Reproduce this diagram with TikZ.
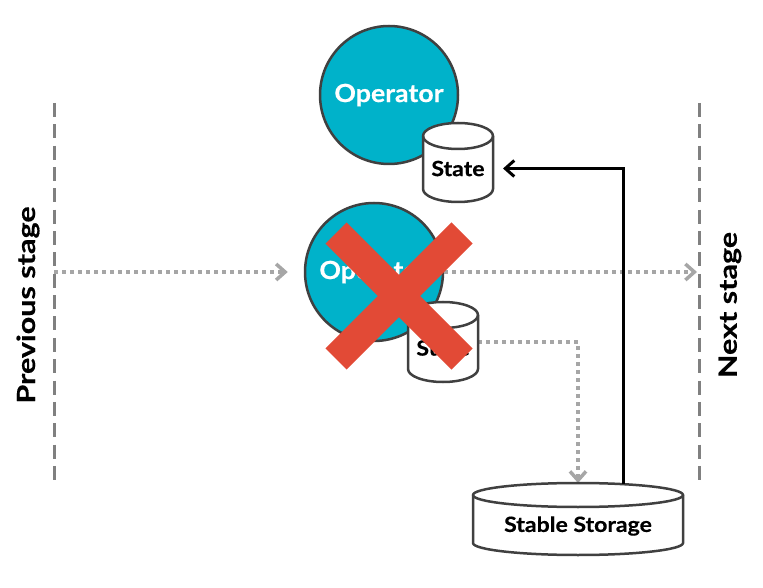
\documentclass[tikz,border=0pt]{standalone}
\usepackage{fontspec}
\setmainfont{Lato}
\newfontfamily\opfont{Lato}[FakeStretch=1.07, FakeBold=0.4]
\newfontfamily\cylfont{Lato}[FakeStretch=1.1, FakeBold=0.4]
\newfontfamily\stagefont{Lato}[FakeStretch=1.22, FakeBold=0.4]
\usetikzlibrary{arrows.meta,calc}
\definecolor{opcyan}{RGB}{0,178,202}
\definecolor{edgegray}{RGB}{64,64,64}
\definecolor{xred}{RGB}{226,74,54}
\definecolor{dashgray}{RGB}{128,128,128}
\definecolor{dotgray}{RGB}{166,166,166}
\newcommand\drawcyl[3]{%
  \draw[cylline] ($(#1.north west)+(0,-#3)$) -- ($(#1.south west)+(0,#3)$)
    arc[start angle=180,end angle=360,x radius=#2pt,y radius=#3pt]
    -- ($(#1.north east)+(0,-#3)$)
    arc[start angle=0,end angle=180,x radius=#2pt,y radius=#3pt] -- cycle;
  \draw[cylline,fill=none] ($(#1.north west)+(0,-#3)$)
    arc[start angle=180,end angle=360,x radius=#2pt,y radius=#3pt];}
\begin{document}
\begin{tikzpicture}[x=1pt,y=1pt,
  opnode/.style={circle, draw=edgegray, line width=2.5pt, fill=opcyan, minimum size=138pt, inner sep=0pt, text=white, font=\opfont\bfseries\fontsize{25}{30}\selectfont},
  cylbox/.style={inner sep=0pt, outer sep=0pt},
  cylline/.style={draw=edgegray, line width=2.5pt, fill=white},
  cyltext/.style={font=\cylfont\bfseries\fontsize{21}{25}\selectfont, inner sep=0pt},
  stage/.style={rotate=90, font=\stagefont\bfseries\fontsize{25}{30}\selectfont},
  divider/.style={dashgray, line width=3pt, dash pattern=on 14pt off 7.35pt},
  flow/.style={dotgray, line width=3.5pt, dash pattern=on 4pt off 4pt, -{Straight Barb[length=9pt,width=16pt]}},
  recover/.style={black, line width=3pt, -{Straight Barb[length=9pt,width=16pt]}},
  cross/.style={xred, line width=30pt}]
\useasboundingbox (0,0) rectangle (763,587);
% stage dividers
\coordinate (lt) at (54,484);
\coordinate (lb) at (54,107);
\coordinate (rt) at (699,484);
\coordinate (rb) at (699,107);
\draw[divider] (lt) -- (lb);
\draw[divider] (rt) -- (rb);
\node[stage] (prev) at (28,282) {Previous stage};
\node[stage] (next) at (730,282) {Next stage};
% nodes
\node[opnode] (op2) at (374,315) {Operator};
\node[cylbox, minimum width=70pt, minimum height=80pt] (st2) at (443,245) {};
\node[cylbox, minimum width=210pt, minimum height=72pt] (storage) at (578,68) {};
% flows
\draw[flow] (lt |- op2) -- ([xshift=-16pt]op2.west);
\draw[flow] (op2.east) -- ([xshift=-2pt]rt |- op2);
\draw[flow] (st2.east) -- (st2.east -| storage.north) -- (storage.north);
\drawcyl{st2}{35}{13}
\node[cyltext] (st2t) at ($(st2)+(0,-6)$) {State};
% top operator
\node[opnode] (op1) at (389,492) {Operator};
\node[cylbox, minimum width=70pt, minimum height=79pt] (st1) at (458,424.5) {};
\drawcyl{st1}{35}{13}
\node[cyltext] (st1t) at ($(st1)+(0,-6)$) {State};
% failure cross
\coordinate (xc) at (399,291);
\draw[cross] ($(xc)+(-63,63)$) -- ($(xc)+(63,-63)$);
\draw[cross] ($(xc)+(63,63)$) -- ($(xc)+(-63,-63)$);
% stable storage
\drawcyl{storage}{105}{12}
\node[cyltext] (storaget) at ($(storage)+(0,-7)$) {Stable Storage};
\coordinate (rs) at ($(storage.north)+(45,-1)$);
\draw[recover] (rs) |- ($(st1.east |- st1t)+(10,0)$);
\end{tikzpicture}
\end{document}
